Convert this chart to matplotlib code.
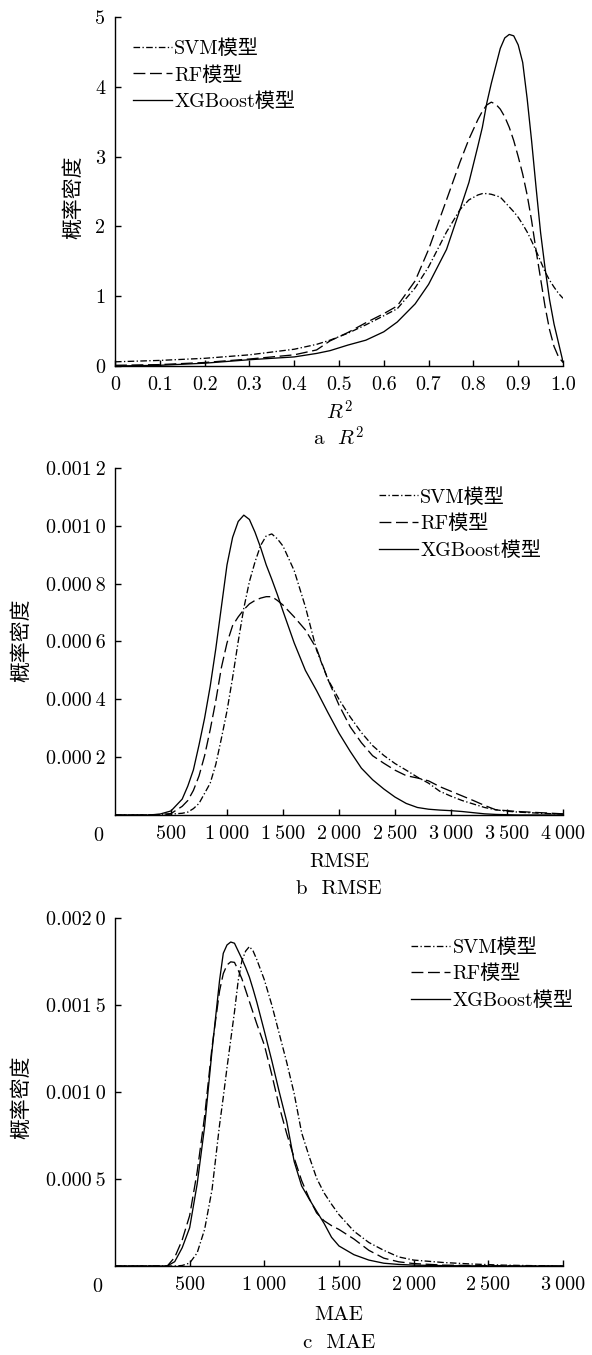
import matplotlib
matplotlib.use('Agg')
import matplotlib.pyplot as plt
import numpy as np

plt.rcParams['font.family'] = ['cmr10', 'Noto Sans CJK SC', 'DejaVu Sans']
plt.rcParams['mathtext.fontset'] = 'cm'
plt.rcParams['axes.unicode_minus'] = False
plt.rcParams['axes.formatter.use_mathtext'] = True

labels = ['SVM模型', 'RF模型', 'XGBoost模型']
styles = [(0, (5, 1.8, 1, 1.8)), (0, (9, 3.5)), '-']

# a: R2
r2_x = [0.00, 0.10, 0.20, 0.30, 0.40, 0.45, 0.48, 0.52, 0.56, 0.60, 0.63, 0.67,
        0.70, 0.74, 0.77, 0.79, 0.81, 0.82, 0.83, 0.84, 0.85, 0.86, 0.87, 0.88,
        0.89, 0.90, 0.91, 0.92, 0.93, 0.94, 0.95, 0.96, 0.97, 0.98, 0.99, 1.00]
r2_svm = [0.06, 0.08, 0.11, 0.16, 0.24, 0.31, 0.37, 0.47, 0.59, 0.72, 0.82, 1.12,
          1.42, 1.92, 2.24, 2.38, 2.45, 2.47, 2.47, 2.46, 2.44, 2.42, 2.35, 2.28,
          2.21, 2.13, 2.03, 1.92, 1.79, 1.65, 1.50, 1.35, 1.23, 1.13, 1.04, 0.97]
r2_rf = [0.01, 0.02, 0.05, 0.10, 0.16, 0.23, 0.36, 0.48, 0.62, 0.75, 0.86, 1.22,
         1.67, 2.38, 2.92, 3.25, 3.53, 3.65, 3.74, 3.78, 3.75, 3.68, 3.57, 3.42,
         3.23, 3.00, 2.75, 2.45, 2.08, 1.65, 1.25, 0.85, 0.52, 0.28, 0.13, 0.05]
r2_xgb = [0.00, 0.01, 0.04, 0.09, 0.13, 0.18, 0.22, 0.30, 0.37, 0.49, 0.63, 0.89,
          1.17, 1.67, 2.24, 2.63, 3.15, 3.42, 3.77, 4.05, 4.30, 4.55, 4.70, 4.75,
          4.73, 4.60, 4.35, 3.83, 3.22, 2.55, 1.91, 1.40, 0.95, 0.60, 0.33, 0.06]

# b: RMSE (density in 1e-4)
rmse_x = [0, 300, 400, 500, 600, 650, 700, 750, 800, 850, 900, 950, 1000, 1050,
          1100, 1150, 1200, 1250, 1300, 1350, 1400, 1450, 1500, 1600, 1700, 1800,
          1900, 2000, 2100, 2200, 2300, 2400, 2500, 2600, 2700, 2800, 2900, 3000,
          3100, 3200, 3300, 3400, 3500, 3600, 3800, 4000]
rmse_svm = [0, 0, 0, 0.03, 0.06, 0.10, 0.22, 0.40, 0.75, 1.10, 1.75, 2.65, 3.60, 4.75,
            6.00, 7.15, 8.07, 8.75, 9.32, 9.65, 9.72, 9.55, 9.30, 8.45, 7.20, 5.70,
            4.70, 4.00, 3.39, 2.85, 2.40, 2.06, 1.78, 1.55, 1.31, 1.10, 0.82, 0.65,
            0.50, 0.38, 0.26, 0.18, 0.13, 0.10, 0.06, 0.03]
rmse_rf = [0, 0, 0.02, 0.05, 0.30, 0.50, 0.85, 1.35, 2.05, 2.95, 3.95, 5.10, 5.95, 6.55,
           6.85, 7.10, 7.30, 7.42, 7.50, 7.55, 7.55, 7.42, 7.26, 6.85, 6.40, 5.75,
           4.70, 3.80, 3.05, 2.50, 2.05, 1.79, 1.55, 1.36, 1.28, 1.18, 0.98, 0.82,
           0.66, 0.50, 0.33, 0.18, 0.15, 0.12, 0.08, 0.04]
rmse_xgb = [0, 0, 0.03, 0.14, 0.55, 1.00, 1.56, 2.42, 3.35, 4.45, 5.75, 7.20, 8.65, 9.60,
            10.15, 10.37, 10.22, 9.78, 9.25, 8.65, 8.15, 7.62, 7.05, 5.95, 5.00, 4.30,
            3.55, 2.83, 2.20, 1.62, 1.22, 0.90, 0.62, 0.40, 0.26, 0.20, 0.17, 0.15,
            0.12, 0.08, 0.04, 0.02, 0.01, 0, 0, 0]

# c: MAE (density in 1e-4)
mae_x = [0, 300, 350, 400, 450, 500, 550, 600, 650, 700, 725, 750, 775, 800, 825, 850,
         875, 900, 925, 950, 1000, 1050, 1100, 1150, 1200, 1250, 1300, 1350, 1400,
         1450, 1500, 1600, 1700, 1800, 1900, 2000, 2200, 2400, 2600, 2800, 3000]
mae_svm = [0, 0, 0, 0, 0.03, 0.17, 0.75, 2.10, 4.40, 8.10, 9.70, 11.40, 13.00, 14.60,
           16.40, 17.55, 18.10, 18.36, 18.10, 17.60, 16.45, 15.00, 13.35, 11.70, 9.90,
           7.65, 6.30, 5.05, 4.20, 3.55, 2.95, 2.00, 1.35, 0.90, 0.52, 0.34, 0.20,
           0.11, 0.05, 0.02, 0]
mae_rf = [0, 0, 0, 0.50, 1.50, 2.90, 5.40, 8.60, 12.60, 15.80, 16.80, 17.30, 17.48, 17.45,
          17.00, 16.50, 15.85, 15.20, 14.55, 13.90, 12.70, 11.00, 9.16, 7.60, 6.20,
          4.90, 3.90, 3.05, 2.60, 2.32, 2.10, 1.55, 0.90, 0.45, 0.24, 0.14, 0.05,
          0.03, 0.01, 0, 0]
mae_xgb = [0, 0, 0, 0.25, 1.05, 2.20, 4.70, 8.00, 12.40, 16.40, 17.97, 18.45, 18.62, 18.55,
           18.10, 17.65, 17.15, 16.60, 15.90, 15.15, 13.50, 11.80, 10.00, 8.30, 6.00,
           4.60, 3.85, 3.15, 2.45, 1.65, 1.15, 0.65, 0.34, 0.16, 0.09, 0.05, 0.02,
           0.01, 0, 0, 0]

W, H = 592, 1355
fig = plt.figure(figsize=(W / 100, H / 100), dpi=100)


def add_panel(top, bottom, left=115, right=563):
    return fig.add_axes([left / W, 1 - bottom / H, (right - left) / W, (bottom - top) / H])


def draw(ax, x, ys, scale):
    for y, lab, ls in zip(ys, labels, styles):
        ax.plot(x, np.array(y) * scale, color='k', lw=0.95, linestyle=ls, label=lab)
    for s in ['top', 'right']:
        ax.spines[s].set_visible(False)
    for s in ['left', 'bottom']:
        ax.spines[s].set_linewidth(1.0)
    ax.tick_params(direction='in', length=4, width=1.0, labelsize=14.5, pad=7)


def legend(ax, fx, fy):
    ax.legend(loc='upper left', bbox_to_anchor=(fx, fy), frameon=False, borderpad=0,
              borderaxespad=0, handlelength=1.95, handletextpad=0.1,
              labelspacing=0.4, fontsize=14.5)


ts = '\u2009'

# panel a
ax = add_panel(17, 366)
draw(ax, r2_x, [r2_svm, r2_rf, r2_xgb], 1)
ax.set_xlim(0, 1)
ax.set_ylim(0, 5)
ax.set_xticks(np.arange(0, 1.01, 0.1))
ax.set_xticklabels(['0'] + ['%.1f' % v for v in np.arange(0.1, 1.01, 0.1)])
ax.set_yticks(range(6))
ax.set_yticklabels([str(v) for v in range(6)])
legend(ax, 0.04, 0.937)

# panel b
ax = add_panel(468, 815)
draw(ax, rmse_x, [rmse_svm, rmse_rf, rmse_xgb], 1e-4)
ax.set_xlim(0, 4000)
ax.set_ylim(0, 0.0012)
ax.set_xticks(range(500, 4001, 500))
ax.set_xticklabels(['500'] + [('%d' % (v // 1000)) + ts + ('%03d' % (v % 1000))
                              for v in range(1000, 4001, 500)])
ax.set_yticks(np.arange(2, 13, 2) * 1e-4)
ax.set_yticklabels(['0.000' + ts + '2', '0.000' + ts + '4', '0.000' + ts + '6',
                    '0.000' + ts + '8', '0.001' + ts + '0', '0.001' + ts + '2'])
ax.annotate('0', xy=(0, 0), xycoords='axes fraction', xytext=(-12, -15.5),
            textcoords='offset points', ha='center', va='center', fontsize=14.5)
legend(ax, 0.589, 0.943)

# panel c
ax = add_panel(918, 1266)
draw(ax, mae_x, [mae_svm, mae_rf, mae_xgb], 1e-4)
ax.set_xlim(0, 3000)
ax.set_ylim(0, 0.002)
ax.set_xticks(range(500, 3001, 500))
ax.set_xticklabels(['500'] + [('%d' % (v // 1000)) + ts + ('%03d' % (v % 1000))
                              for v in range(1000, 3001, 500)])
ax.set_yticks(np.arange(5, 21, 5) * 1e-4)
ax.set_yticklabels(['0.000' + ts + '5', '0.001' + ts + '0', '0.001' + ts + '5',
                    '0.002' + ts + '0'])
ax.annotate('0', xy=(0, 0), xycoords='axes fraction', xytext=(-13, -15),
            textcoords='offset points', ha='center', va='center', fontsize=14.5)
legend(ax, 0.661, 0.943)

# axis labels and captions
cx = 339 / W
for ylab_x, ylab_y in [(73, 197), (21, 640), (21, 1097)]:
    fig.text(ylab_x / W, 1 - ylab_y / H, '概率密度', rotation=90, ha='center',
             va='center', fontsize=15)
for text, y in [('$R^2$', 412), ('a  $R^2$', 438), ('RMSE', 862), ('b  RMSE', 889),
                ('MAE', 1315), ('c  MAE', 1343)]:
    fig.text(cx, 1 - y / H, text, ha='center', va='center', fontsize=15)

fig.savefig('out.png', dpi=100)
